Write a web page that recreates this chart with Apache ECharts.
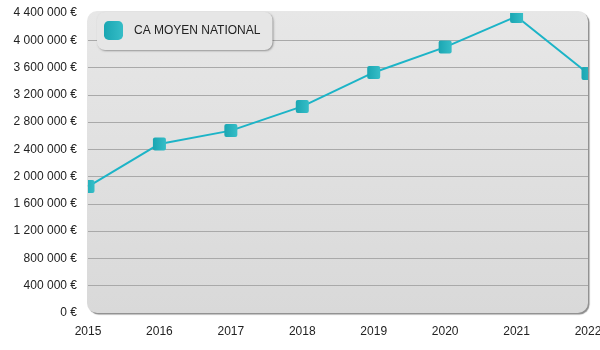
<!DOCTYPE html>
<html>
<head>
<meta charset="utf-8">
<script src="https://cdn.jsdelivr.net/npm/echarts@6/dist/echarts.min.js"></script>
<style>
html,body{margin:0;padding:0;background:#fff;}
#chart{width:600px;height:350px;}
</style>
</head>
<body>
<div id="chart"></div>
<script>
const categories = ['2015','2016','2017','2018','2019','2020','2021','2022'];
const seriesName = 'CA MOYEN NATIONAL';
const caMoyen = [1855000, 2480000, 2675000, 3030000, 3528000, 3900000, 4350000, 3512000];
const yTicks = [0, 400000, 800000, 1200000, 1600000, 2000000, 2400000, 2800000, 3200000, 3600000, 4000000, 4400000];

const FONT = '"Liberation Sans", Arial, Helvetica, sans-serif';
const markerFill = new echarts.graphic.LinearGradient(0, 0, 1, 0, [
  {offset: 0, color: '#1aa6b2'},
  {offset: 1, color: '#36bdc7'}
]);

function fmt(v) {
  return String(v).replace(/\B(?=(\d{3})+(?!\d))/g, ' ') + ' €';
}

const GL = 88, GR = 12, GT = 13, GB = 37;
const chart = echarts.init(document.getElementById('chart'), null, {renderer: 'canvas'});
chart.setOption({
  animation: false,
  textStyle: {fontFamily: FONT},
  graphic: [{
    type: 'rect',
    z: -100,
    silent: true,
    shape: {x: GL - 1, y: GT - 2, width: 600 - GL - GR + 1, height: 350 - GT - GB + 2, r: 10},
    style: {
      fill: new echarts.graphic.LinearGradient(0, 0, 0, 1, [
        {offset: 0, color: '#e7e7e7'},
        {offset: 1, color: '#d9d9d9'}
      ]),
      shadowColor: 'rgba(0,0,0,0.45)',
      shadowOffsetX: 1.5,
      shadowOffsetY: 1.5,
      shadowBlur: 1
    }
  }],
  grid: {left: GL, right: GR, top: GT, bottom: GB, containLabel: false, outerBoundsMode: 'none'},
  legend: {
    left: 97, top: 12,
    orient: 'horizontal',
    padding: [9, 12, 10, 7],
    backgroundColor: '#e6e6e6',
    borderRadius: 8,
    shadowColor: 'rgba(0,0,0,0.35)',
    shadowBlur: 2,
    shadowOffsetX: 1,
    shadowOffsetY: 1,
    itemWidth: 19, itemHeight: 19,
    icon: 'roundRect',
    textStyle: {fontSize: 12, color: '#222', fontFamily: FONT, padding: [0, 0, 0, 6]},
    data: [{name: seriesName, icon: 'roundRect', itemStyle: {color: markerFill}}]
  },
  xAxis: {
    type: 'category',
    data: categories,
    boundaryGap: false,
    axisLine: {show: false},
    axisTick: {show: false},
    axisLabel: {color: '#222', fontSize: 12, margin: 13, fontFamily: FONT}
  },
  yAxis: {
    type: 'value',
    min: yTicks[0],
    max: yTicks[yTicks.length - 1],
    interval: yTicks[1] - yTicks[0],
    axisLine: {show: false},
    axisTick: {show: false},
    axisLabel: {color: '#222', fontSize: 12, margin: 11, fontFamily: FONT, formatter: fmt},
    splitLine: {showMinLine: false, showMaxLine: false, lineStyle: {color: '#a9a9a9', width: 1}}
  },
  series: [{
    name: seriesName,
    type: 'line',
    data: caMoyen,
    showSymbol: false,
    symbol: 'none',
    lineStyle: {color: '#1cb4c7', width: 2},
    itemStyle: {color: markerFill},
    z: 3
  }, {
    name: seriesName,
    type: 'custom',
    clip: true,
    z: 4,
    data: caMoyen.map((v, i) => [i, v]),
    renderItem: function (params, api) {
      const p = api.coord([api.value(0), api.value(1)]);
      const s = 13;
      return {
        type: 'rect',
        shape: {x: p[0] - s / 2, y: p[1] - s / 2, width: s, height: s, r: 2},
        style: {fill: markerFill}
      };
    }
  }]
});
</script>
</body>
</html>
